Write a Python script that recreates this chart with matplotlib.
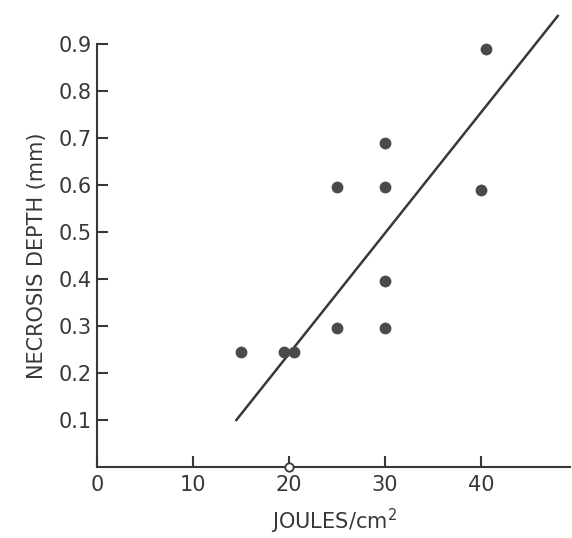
import numpy as np
import matplotlib.pyplot as plt

# data
joules = [15, 19.5, 20.5, 25, 25, 30, 30, 30, 30, 40, 40.5]
depth = [0.245, 0.245, 0.245, 0.295, 0.595, 0.295, 0.395, 0.595, 0.69, 0.59, 0.89]
open_x = [20]
open_y = [0.0]
fit_x = [14.5, 48]
fit_y = [0.10, 0.96]

x_ticks = [0, 10, 20, 30, 40]
y_ticks = [0.1, 0.2, 0.3, 0.4, 0.5, 0.6, 0.7, 0.8, 0.9]

ink = '#383838'

fig = plt.figure(figsize=(5.72, 5.38), dpi=100)
ax = fig.add_axes([0.17, 0.132, 0.827, 0.786])

ax.plot(fit_x, fit_y, color=ink, linewidth=1.8, clip_on=False, zorder=2)
ax.plot(joules, depth, 'o', color='#4a4a4a', markersize=8.5, markeredgewidth=0,
        clip_on=False, zorder=3)
ax.plot(open_x, open_y, 'o', markerfacecolor='white', markeredgecolor=ink,
        markersize=6, markeredgewidth=1.3, clip_on=False, zorder=4)

ax.set_xlim(0, 49.3)
ax.set_ylim(0, 0.9)
ax.set_xticks(x_ticks)
ax.set_yticks(y_ticks)
ax.set_yticklabels([f'{v:.1f}' for v in y_ticks])

for side in ['top', 'right']:
    ax.spines[side].set_visible(False)
for side in ['left', 'bottom']:
    ax.spines[side].set_linewidth(1.5)
    ax.spines[side].set_color(ink)

ax.tick_params(axis='both', direction='in', length=8, width=1.5, color=ink,
               labelsize=15, labelcolor=ink)
ax.tick_params(axis='y', pad=4)
ax.tick_params(axis='x', pad=6)

ax.set_xlabel('JOULES/cm$^2$', fontsize=15, color=ink, labelpad=8)
ax.set_ylabel('NECROSIS DEPTH (mm)', fontsize=15, color=ink, labelpad=8)

plt.savefig('out.png', dpi=100)
plt.close()
